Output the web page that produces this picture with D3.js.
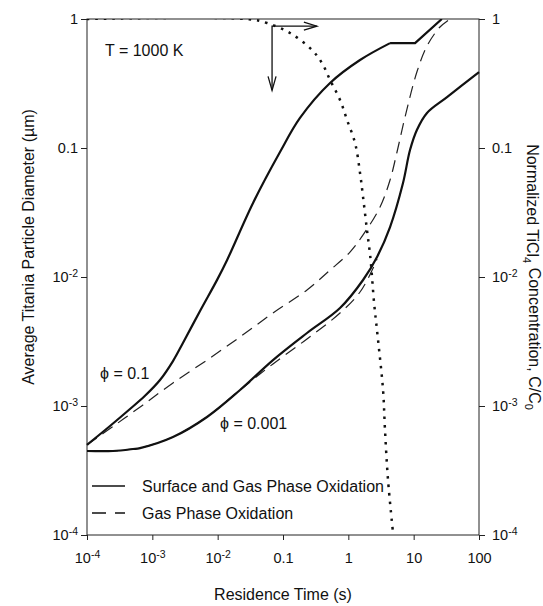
<!DOCTYPE html>
<html>
<head>
<meta charset="utf-8">
<script src="https://cdnjs.cloudflare.com/ajax/libs/d3/7.8.5/d3.min.js"></script>
<style>
body { margin: 0; background: #fff; }
svg { font-family: "Liberation Sans", Arial, Helvetica, sans-serif; }
</style>
</head>
<body>
<script>
// tick values
var timeTicks = [1e-4, 1e-3, 1e-2, 0.1, 1, 10, 100];
var diamTicks = [1e-4, 1e-3, 1e-2, 0.1, 1];
var concTicks = [1e-4, 1e-3, 1e-2, 0.1, 1];

// [residence time (s), diameter (um)]
var phi01Surface = [
	[1e-4, 5.0e-4], [2.25e-4, 7.0e-4], [4.55e-4, 9.48e-4], [7.72e-4, 1.2e-3],
	[1.31e-3, 1.59e-3], [2.07e-3, 2.23e-3], [2.94e-3, 3.08e-3], [5.37e-3, 5.45e-3],
	[9.8e-3, 9.5e-3], [1.39e-2, 1.35e-2], [3.48e-2, 3.75e-2], [9.0e-2, 9.3e-2],
	[0.182, 0.171], [0.525, 0.319], [1.51, 0.481], [4.35, 0.65], [10.5, 0.65], [27, 1.0]
];
var phi01SurfaceKink = 15; // plateau and straight rise drawn without smoothing
var phi01Gas = [
	[1e-4, 5.0e-4], [2.69e-4, 7.13e-4], [7.2e-4, 1.02e-3], [2.07e-3, 1.51e-3],
	[6.87e-3, 2.27e-3], [2.2e-2, 3.43e-3], [7.03e-2, 5.26e-3], [0.233, 7.93e-3],
	[0.525, 1.13e-2], [1.06, 1.56e-2], [1.68, 2.12e-2], [3.06, 3.49e-2], [4.35, 5.65e-2],
	[5.56, 9.31e-2], [7.38, 0.174], [11.2, 0.388], [16.0, 0.618], [25.3, 0.867], [36, 1.0]
];
var phi0001Surface = [
	[1e-4, 4.48e-4], [2.5e-4, 4.48e-4], [5.06e-4, 4.64e-4], [6.47e-4, 4.72e-4],
	[2.07e-3, 5.75e-4], [6.87e-3, 8.22e-4], [2.2e-2, 1.33e-3], [7.03e-2, 2.27e-3],
	[0.233, 3.68e-3], [0.746, 5.75e-3], [1.68, 9.48e-3], [2.75, 1.43e-2],
	[4.35, 2.44e-2], [6.87, 5.35e-2], [8.79, 9.64e-2], [11.2, 0.138],
	[16.0, 0.187], [32.4, 0.248], [100, 0.388]
];
var phi0001Gas = [
	[1e-4, 4.48e-4], [2.5e-4, 4.48e-4], [5.06e-4, 4.64e-4], [6.47e-4, 4.72e-4],
	[2.07e-3, 5.75e-4], [6.87e-3, 8.22e-4], [2.2e-2, 1.33e-3], [7.03e-2, 2.12e-3],
	[0.233, 3.31e-3], [0.746, 5.26e-3], [1.51, 7.65e-3], [2.39, 1.17e-2], [2.75, 1.38e-2]
];
// [residence time (s), C/C0]
var ticl4Conc = [
	[1e-4, 1], [2.81e-2, 1], [5.69e-2, 0.931], [0.128, 0.779], [0.278, 0.575],
	[0.395, 0.456], [0.525, 0.337], [0.746, 0.236], [0.955, 0.165], [1.27, 0.109],
	[1.51, 6.4e-2], [1.68, 4.17e-2], [1.93, 2.31e-2], [2.17, 1.43e-2], [2.48, 6.29e-3],
	[2.85, 3.25e-3], [3.40, 1.33e-3], [3.64, 6.52e-4], [4.05, 2.67e-4], [4.83, 1.04e-4]
];

var width = 543, height = 606;
var margin = {top: 19, right: 64, bottom: 71, left: 87};
var plotW = width - margin.left - margin.right;
var plotH = height - margin.top - margin.bottom;

var svg = d3.select('body').append('svg')
	.attr('width', width)
	.attr('height', height);

svg.append('clipPath')
	.attr('id', 'plot-clip')
	.append('rect')
	.attr('x', -2).attr('y', 0)
	.attr('width', plotW + 4)
	.attr('height', plotH);

var g = svg.append('g')
	.attr('transform', 'translate(' + margin.left + ',' + margin.top + ')');

var x = d3.scaleLog().domain([1e-4, 100]).range([0, plotW]);
var yL = d3.scaleLog().domain([1e-4, 1]).range([plotH, 0]);
var yR = d3.scaleLog().domain([1e-4, 1]).range([plotH, 0]);

// label text: plain for >= 0.1, 10 with superscript otherwise
function labelTicks(axisG, size) {
	axisG.selectAll('.tick text').each(function(d) {
		var t = d3.select(this).text('');
		var e = Math.round(Math.log10(d));
		if (e < -1) {
			t.append('tspan').text('10');
			t.append('tspan').attr('dy', '-0.5em').attr('font-size', size - 4).text(e);
		} else {
			t.text(d3.format('~g')(d));
		}
	});
	axisG.select('.domain').remove();
	axisG.attr('font-size', size).attr('font-family', null);
	axisG.selectAll('.tick line').attr('stroke', '#222');
	axisG.selectAll('.tick text').attr('fill', '#111');
}

var xAxisG = g.append('g')
	.attr('transform', 'translate(0,' + plotH + ')')
	.call(d3.axisBottom(x).tickValues(timeTicks).tickSize(5).tickPadding(13));
labelTicks(xAxisG, 14.5);

var yAxisG = g.append('g')
	.call(d3.axisLeft(yL).tickValues(diamTicks).tickSize(6).tickPadding(3));
labelTicks(yAxisG, 14.5);

var yRAxisG = g.append('g')
	.attr('transform', 'translate(' + plotW + ',0)')
	.call(d3.axisRight(yR).tickValues(concTicks).tickSize(6).tickPadding(7));
labelTicks(yRAxisG, 14.5);

// frame
g.append('rect')
	.attr('width', plotW)
	.attr('height', plotH)
	.attr('fill', 'none')
	.attr('stroke', '#222')
	.attr('stroke-width', 1);

var lineL = d3.line()
	.x(function(d) { return x(d[0]); })
	.y(function(d) { return yL(d[1]); })
	.curve(d3.curveCatmullRom.alpha(0.5));
var lineLStraight = d3.line()
	.x(function(d) { return x(d[0]); })
	.y(function(d) { return yL(d[1]); });
var lineR = d3.line()
	.x(function(d) { return x(d[0]); })
	.y(function(d) { return yR(d[1]); })
	.curve(d3.curveCatmullRom.alpha(0.5));

var solid = {stroke: '#111', width: 2.2, dash: null};
var dashed = {stroke: '#222', width: 1.2, dash: '12,7'};
var dotted = {stroke: '#111', width: 2.5, dash: '2.5,6'};

var curves = g.append('g').attr('clip-path', 'url(#plot-clip)');

function drawLine(data, gen, style) {
	curves.append('path')
		.datum(data)
		.attr('d', gen)
		.attr('fill', 'none')
		.attr('stroke', style.stroke)
		.attr('stroke-width', style.width)
		.attr('stroke-dasharray', style.dash)
		.attr('stroke-linejoin', 'round');
}

drawLine(phi01Gas, lineL, dashed);
drawLine(phi0001Gas, lineL, dashed);
drawLine(phi01Surface.slice(0, phi01SurfaceKink + 1), lineL, solid);
drawLine(phi01Surface.slice(phi01SurfaceKink), lineLStraight, solid);
drawLine(phi0001Surface, lineL, solid);
drawLine(ticl4Conc, lineR, dotted);

// arrows pointing at the concentration axis
var arrowCorner = [0.068, 0.88];
var arrowRightEnd = 0.33;
var arrowDownEnd = 0.28;
var cx = x(arrowCorner[0]), cy = yR(arrowCorner[1]);
var hx = x(arrowRightEnd), vy = yR(arrowDownEnd);
var arrow = g.append('g')
	.attr('fill', 'none')
	.attr('stroke', '#111')
	.attr('stroke-width', 1.3);
arrow.append('path').attr('d', 'M' + hx + ',' + cy + 'L' + cx + ',' + cy + 'L' + cx + ',' + vy);
arrow.append('path').attr('d', 'M' + (hx - 13) + ',' + (cy - 4) + 'L' + hx + ',' + cy + 'L' + (hx - 13) + ',' + (cy + 4));
arrow.append('path').attr('d', 'M' + (cx - 4) + ',' + (vy - 14) + 'L' + cx + ',' + vy + 'L' + (cx + 4) + ',' + (vy - 14));

// text annotations
var notes = g.append('g').attr('font-size', 16).attr('fill', '#111');
notes.append('text').attr('x', 18).attr('y', 37).text('T = 1000 K');
notes.append('text').attr('x', 13).attr('y', 360).text('\u03D5 = 0.1');
notes.append('text').attr('x', 133).attr('y', 410).text('\u03D5 = 0.001');

// legend
var legend = g.append('g').attr('font-size', 16).attr('fill', '#111');
var legendItems = [
	{label: 'Surface and Gas Phase Oxidation', dash: null},
	{label: 'Gas Phase Oxidation', dash: '14,9'}
];
legendItems.forEach(function(item, i) {
	var ly = 467 + i * 27;
	legend.append('line')
		.attr('x1', 5).attr('x2', 38)
		.attr('y1', ly).attr('y2', ly)
		.attr('stroke', '#111')
		.attr('stroke-width', 1.6)
		.attr('stroke-dasharray', item.dash);
	legend.append('text')
		.attr('x', 55).attr('y', ly + 5.5)
		.text(item.label);
});

// axis titles
svg.append('text')
	.attr('x', margin.left + plotW / 2)
	.attr('y', 600)
	.attr('text-anchor', 'middle')
	.attr('font-size', 16)
	.attr('fill', '#111')
	.text('Residence Time (s)');

svg.append('text')
	.attr('transform', 'translate(34,247) rotate(-90)')
	.attr('text-anchor', 'middle')
	.attr('font-size', 16)
	.attr('fill', '#111')
	.text('Average Titania Particle Diameter (\u00B5m)');

var rTitle = svg.append('text')
	.attr('transform', 'translate(527,277) rotate(90)')
	.attr('text-anchor', 'middle')
	.attr('font-size', 16)
	.attr('fill', '#111');
rTitle.append('tspan').text('Normalized TiCl');
rTitle.append('tspan').attr('font-size', 11).attr('dy', '0.35em').text('4');
rTitle.append('tspan').attr('dy', '-0.35em').text(' Concentration, C/C');
rTitle.append('tspan').attr('font-size', 11).attr('dy', '0.35em').text('0');
</script>
</body>
</html>
